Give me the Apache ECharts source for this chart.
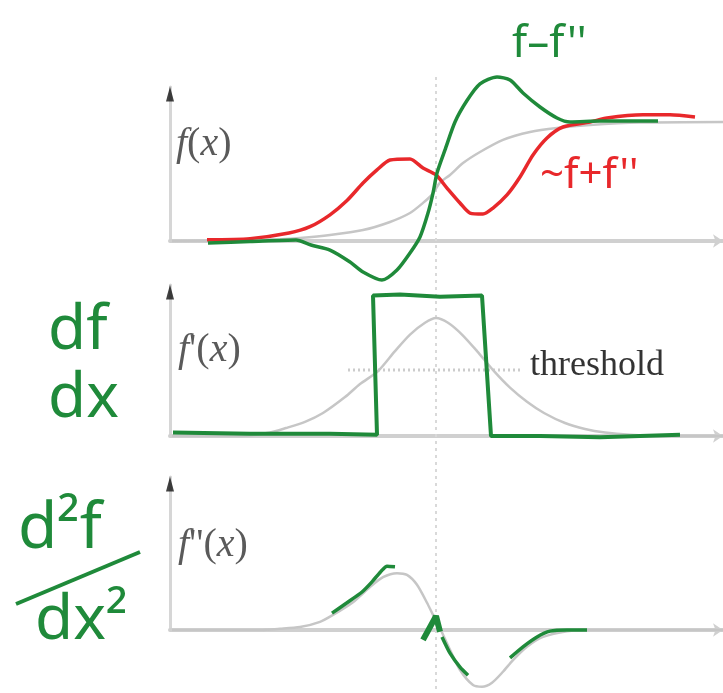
<!DOCTYPE html>
<html><head><meta charset="utf-8">
<script src="https://cdn.jsdelivr.net/npm/echarts@6/dist/echarts.min.js"></script>
<style>html,body{margin:0;padding:0;background:#fff}#c{width:723px;height:693px}</style>
</head><body><div id="c"></div>
<script>
// ---- Panel 1: f(x), f+f'', f-f''
const p1GrayX = [-5.28,-4.12,-3.12,-2.72,-2.12,-1.46,-0.92,-0.52,-0.26,-0.08,0.08,0.28,0.54,0.88,1.34,1.88,2.42,3.08,4.08,5.74];
const p1GrayY = [0,0.003,0.015,0.025,0.05,0.092,0.16,0.235,0.32,0.39,0.49,0.555,0.655,0.748,0.85,0.916,0.95,0.975,0.995,1.0];
const p1RedX = [-4.58,-3.72,-2.94,-2.52,-2.12,-1.78,-1.46,-1.18,-0.92,-0.52,-0.26,0,0.22,0.48,0.68,0.94,1.14,1.42,1.68,1.94,2.22,2.54,3.08,3.42,4.14,4.68,5.18];
const p1RedY = [0.01,0.02,0.067,0.12,0.22,0.34,0.487,0.597,0.68,0.689,0.613,0.555,0.445,0.319,0.235,0.227,0.277,0.387,0.538,0.723,0.866,0.958,1.0,1.034,1.06,1.06,1.042];
const p1GreenX = [-4.56,-3.72,-2.8,-2.5,-2.12,-1.72,-1.46,-1.08,-0.78,-0.52,-0.32,-0.16,-0.06,0.02,0.18,0.38,0.62,0.88,1.22,1.48,1.74,2.08,2.42,2.68,3.28,3.88,4.44];
const p1GreenY = [-0.017,-0.005,0.008,-0.034,-0.076,-0.176,-0.26,-0.328,-0.244,-0.101,0.034,0.235,0.403,0.571,0.765,1.0,1.18,1.32,1.378,1.353,1.244,1.126,1.034,1.0,1.008,1.008,1.008];
const centerLineX = [0,0];
const centerLineY = [1.378,-3.8];

// ---- Panel 2: f'(x), thresholded
const p2GrayX = [-5.28,-3.92,-3.32,-3.0,-2.62,-2.26,-1.82,-1.52,-1.16,-0.82,-0.52,-0.22,0,0.24,0.52,0.82,1.16,1.48,1.82,2.16,2.58,2.98,3.38,3.88,4.48,5.74];
const p2GrayY = [0,0,0.03,0.068,0.12,0.195,0.33,0.44,0.55,0.72,0.86,0.96,1.0,0.96,0.86,0.72,0.55,0.41,0.29,0.195,0.11,0.06,0.03,0.01,0,0];
const p2GreenX = [-5.26,-3.72,-2.12,-1.18,-1.26,-0.72,0.08,0.92,1.1,2.08,3.28,4.88];
const p2GreenY = [0.03,0.02,0.02,0.01,1.19,1.2,1.18,1.19,0.0,0.0,-0.01,0.01];
const thresholdX = [-1.76,1.68];
const thresholdY = [0.56,0.56];

// ---- Panel 3: f''(x)
const p3GrayX = [-5.28,-3.52,-3.12,-2.72,-2.32,-2.06,-1.66,-1.32,-1.06,-0.78,-0.58,-0.38,-0.18,-0.06,0.08,0.28,0.48,0.74,0.92,1.12,1.34,1.54,1.82,2.14,2.62,3.08,5.74];
const p3GrayY = [0,0,0.02,0.05,0.14,0.26,0.48,0.74,0.91,0.98,0.95,0.78,0.47,0.26,0.03,-0.34,-0.69,-0.95,-0.98,-0.91,-0.72,-0.52,-0.29,-0.12,-0.02,0,0];
const p3GreenX = [-2.08,-1.78,-1.48,-1.28,-1.08,-0.98,-0.82,null,0.12,0.28,0.48,0.64,null,1.48,1.74,2.02,2.28,2.62,3.02];
const p3GreenY = [0.29,0.47,0.655,0.83,1.03,1.1,1.09,null,-0.12,-0.4,-0.64,-0.78,null,-0.48,-0.29,-0.12,-0.02,0.0,0.0];
const p3SpikeX = [-0.26,0,0.08];
const p3SpikeY = [-0.17,0.24,-0.03];

const X_MIN = -5.32, X_MAX = 5.74;
const Y_MAX = [1.294, 1.28, 2.638];

const GRAY = '#c6c6c6', RED = '#e8282b', GREEN = '#1f8a3a';
const zip = (xs, ys) => xs.map((x, i) => (x === null ? [null, null] : [x, ys[i]]));

const grids = [
  {left:170, top:87, width:553, height:154},
  {left:170, top:285, width:553, height:151},
  {left:170, top:477, width:553, height:153}
];
const xAxes = grids.map((g,i)=>({
  type:'value', gridIndex:i, min:X_MIN, max:X_MAX,
  axisLine:{show:true, lineStyle:{color:'#d0d0d0', width:4}, symbol:['none','arrow'], symbolSize:[10,10]},
  axisTick:{show:false}, axisLabel:{show:false}, splitLine:{show:false}
}));
const yAxes = grids.map((g,i)=>({
  type:'value', gridIndex:i, min:0, max:Y_MAX[i],
  axisLine:{show:true, onZero:false, lineStyle:{color:'#d6d6d6', width:3}},
  axisTick:{show:false}, axisLabel:{show:false}, splitLine:{show:false}
}));

function line(i, data, color, width, opts) {
  return Object.assign({
    type:'line', xAxisIndex:i, yAxisIndex:i, data, showSymbol:false, clip:false,
    smooth:0.25, lineStyle:{color, width}, itemStyle:{color}, silent:true, animation:false
  }, opts || {});
}

const series = [
  line(0, zip(centerLineX, centerLineY), '#d9d9d9', 2, {smooth:false, lineStyle:{color:'#d9d9d9', width:2, type:[3,4]}}),
  line(0, zip(p1GrayX, p1GrayY), GRAY, 2.5),
  line(0, zip(p1RedX, p1RedY), RED, 3.5),
  line(0, zip(p1GreenX, p1GreenY), GREEN, 3.5),
  line(1, zip(thresholdX, thresholdY), '#cccccc', 2, {smooth:false, lineStyle:{color:'#cccccc', width:3, type:[2,3]}}),
  line(1, zip(p2GrayX, p2GrayY), GRAY, 2.5),
  line(1, zip(p2GreenX, p2GreenY), GREEN, 4, {smooth:false}),
  line(2, zip(p3GrayX, p3GrayY), GRAY, 2.5),
  line(2, zip(p3GreenX, p3GreenY), GREEN, 3.5, {connectNulls:false, smooth:0.2}),
  line(2, zip(p3SpikeX, p3SpikeY), GREEN, 6, {smooth:false})
];
// black arrow heads at the top of each y axis
[0,1,2].forEach(i=>{
  series.push({type:'scatter', xAxisIndex:i, yAxisIndex:i, data:[[X_MIN, Y_MAX[i]]],
    symbol:'triangle', symbolSize:[8,15], symbolOffset:[0,7], clip:false, silent:true, animation:false,
    itemStyle:{color:'#111'}});
});

const SERIF = '"Liberation Serif", "DejaVu Serif", serif';
const mathRich = {
  i:{font:'italic 40px ' + SERIF, fill:'#5a5a5a'},
  u:{font:'40px ' + SERIF, fill:'#5a5a5a'}
};
const hand = (size) => size + 'px "Noto Sans", "DejaVu Sans", sans-serif';
const graphic = [
  {type:'text', left:176, top:124, style:{text:'{i|f}{u|(}{i|x}{u|)}', rich:mathRich}},
  {type:'text', left:178, top:330, style:{text:"{i|f}{u|'(}{i|x}{u|)}", rich:mathRich}},
  {type:'text', left:178, top:525, style:{text:"{i|f}{u|''(}{i|x}{u|)}", rich:mathRich}},
  {type:'text', left:530, top:348, style:{text:'threshold', font:'36px ' + SERIF, fill:'#333'}},
  {type:'text', left:512, top:22, style:{text:"f\u2013f''", font:hand(44), fill:GREEN}},
  {type:'text', left:540, top:155, style:{text:"~f+f''", font:hand(42), fill:RED}},
  {type:'text', left:48, top:300, style:{text:'df', font:hand(62), fill:GREEN}},
  {type:'text', left:48, top:368, style:{text:'dx', font:hand(62), fill:GREEN}},
  {type:'text', left:18, top:498, style:{text:'d\u00b2f', font:hand(64), fill:GREEN}},
  {type:'line', shape:{x1:16, y1:604, x2:140, y2:552}, style:{stroke:GREEN, lineWidth:4}},
  {type:'text', left:35, top:590, style:{text:'dx\u00b2', font:hand(62), fill:GREEN}}
];

const chart = echarts.init(document.getElementById('c'), null, {renderer:'canvas'});
chart.setOption({
  backgroundColor:'#fff', animation:false,
  grid:grids, xAxis:xAxes, yAxis:yAxes, series, graphic
});
</script></body></html>
